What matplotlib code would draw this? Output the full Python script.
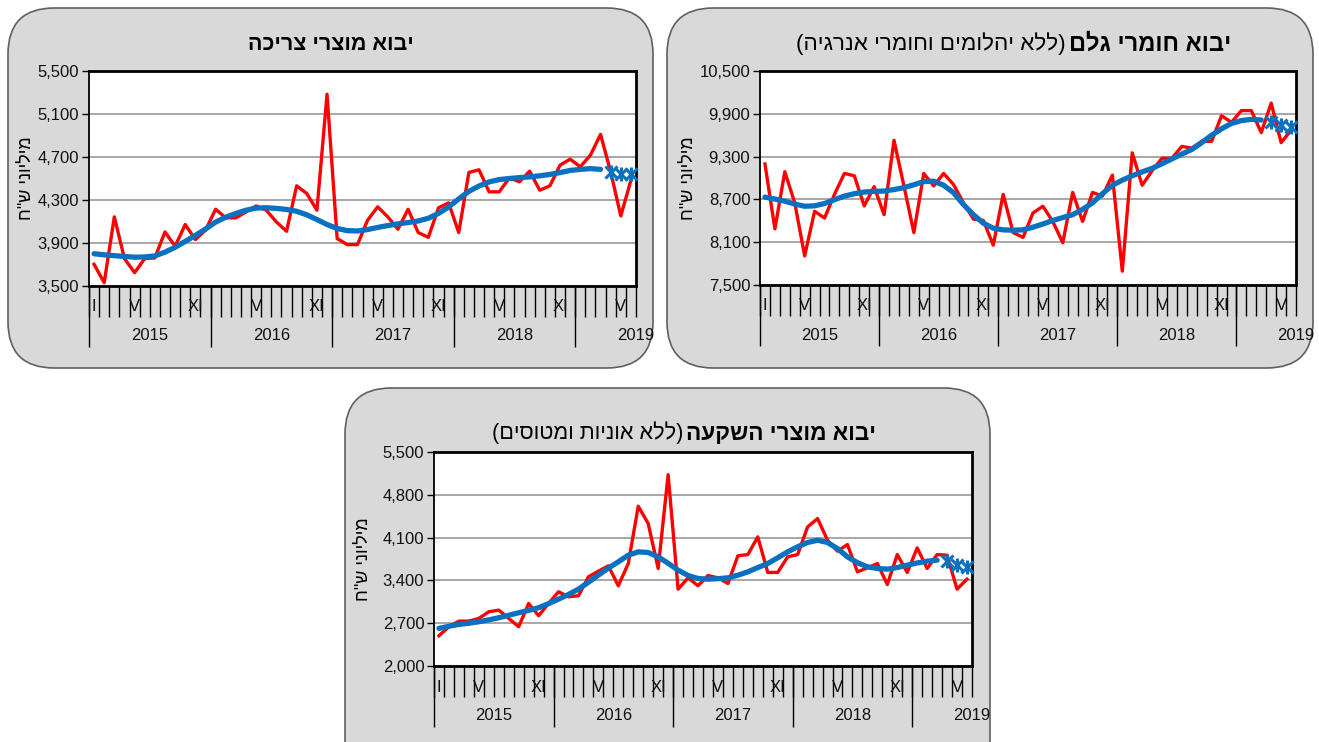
import matplotlib
matplotlib.use("Agg")
import matplotlib.pyplot as plt
from matplotlib.patches import FancyBboxPatch
import numpy as np

W, H = 1319, 742
FONT = ["Liberation Sans", "DejaVu Sans"]
plt.rcParams["font.family"] = FONT

# months Jan 2015 .. Jun 2019
N_MONTHS = 54
MONTH_LABEL_POS = [0, 4, 10, 16, 22, 28, 34, 40, 46, 52]
MONTH_LABEL_TEXT = ["I", "V", "XI", "V", "XI", "V", "XI", "V", "XI", "V"]
YEAR_START = [0, 12, 24, 36, 48]
YEARS = ["2015", "2016", "2017", "2018", "2019"]

# consumer goods imports (NIS million)
cons_actual = [3702, 3531, 4143, 3755, 3624, 3755, 3761, 4003, 3870, 4072, 3932, 4019,
               4214, 4134, 4134, 4189, 4245, 4205, 4096, 4009, 4432, 4360, 4205, 5283,
               3941, 3885, 3885, 4112, 4236, 4143, 4028, 4214, 3997, 3953, 4227, 4273,
               3997, 4556, 4581, 4376, 4376, 4506, 4469, 4568, 4391, 4432, 4624, 4680,
               4609, 4717, 4910, 4562, 4152, 4484]
cons_trend = [3800, 3790, 3782, 3775, 3768, 3770, 3780, 3815, 3860, 3915, 3970, 4030,
              4095, 4140, 4175, 4205, 4225, 4228, 4222, 4212, 4195, 4162, 4118, 4072,
              4035, 4015, 4012, 4025, 4045, 4062, 4078, 4090, 4105, 4130, 4175, 4235,
              4310, 4380, 4430, 4468, 4490, 4500, 4508, 4515, 4525, 4538, 4555, 4575,
              4585, 4592, 4585]
cons_forecast = [4562, 4540, 4538]
cons_ticks = [3500, 3900, 4300, 4700, 5100, 5500]

# raw materials imports (excl. diamonds and energy)
raw_actual = [9197, 8287, 9088, 8652, 7908, 8533, 8438, 8770, 9064, 9031, 8609, 8879,
              8486, 9528, 8889, 8235, 9064, 8889, 9064, 8908, 8652, 8424, 8405, 8059,
              8770, 8235, 8168, 8509, 8604, 8391, 8092, 8798, 8391, 8798, 8746, 9040,
              7694, 9353, 8898, 9102, 9277, 9277, 9443, 9419, 9514, 9514, 9874, 9780,
              9945, 9945, 9637, 10050, 9495, 9670]
raw_trend = [8732, 8705, 8675, 8635, 8604, 8610, 8642, 8695, 8746, 8780, 8803, 8812,
             8817, 8838, 8865, 8905, 8950, 8955, 8898, 8794, 8628, 8486, 8367, 8296,
             8273, 8268, 8273, 8310, 8355, 8405, 8445, 8486, 8560, 8652, 8780, 8898,
             8970, 9031, 9085, 9135, 9200, 9268, 9335, 9400, 9495, 9600, 9690, 9765,
             9805, 9822, 9813]
raw_forecast = [9789, 9745, 9718]
raw_ticks = [7500, 8100, 8700, 9300, 9900, 10500]

# investment goods imports (excl. ships and aircraft)
inv_actual = [2495, 2642, 2734, 2734, 2778, 2887, 2914, 2778, 2642, 3023, 2822, 3023,
              3214, 3132, 3149, 3459, 3551, 3638, 3312, 3677, 4613, 4330, 3595, 5130,
              3257, 3442, 3312, 3480, 3442, 3350, 3802, 3823, 4112, 3530, 3530, 3785,
              3823, 4275, 4411, 4057, 3878, 3987, 3540, 3605, 3676, 3333, 3823, 3530,
              3932, 3595, 3823, 3812, 3257, 3420]
inv_trend = [2615, 2650, 2680, 2700, 2724, 2755, 2789, 2830, 2871, 2910, 2953, 3020,
             3094, 3170, 3257, 3370, 3486, 3600, 3704, 3812, 3867, 3856, 3785, 3680,
             3568, 3480, 3431, 3420, 3428, 3442, 3485, 3540, 3610, 3676, 3770, 3867,
             3950, 4020, 4057, 4020, 3920, 3785, 3690, 3622, 3595, 3584, 3610, 3649,
             3685, 3714, 3731]
inv_forecast = [3714, 3649, 3622]
inv_ticks = [2000, 2700, 3400, 4100, 4800, 5500]

RED = "#ff0000"
BLUE = "#0a70c0"
YLABEL = 'מיליוני ש"ח'


def heb(s):
    """Hebrew text in visual (left-to-right) order."""
    return s[::-1].translate(str.maketrans("()", ")("))


def fig_rect(left, top, right, bottom):
    return [left / W, 1 - bottom / H, (right - left) / W, (bottom - top) / H]


def draw_panel(fig, box, axpx, title_parts, title_y, ylabel_x,
               actual, trend, forecast, yticks):
    x0, y0, x1, y1 = box
    fig.patches.append(FancyBboxPatch(
        (x0 / W, 1 - y1 / H), (x1 - x0) / W, (y1 - y0) / H,
        boxstyle="round,pad=0,rounding_size=0.035", transform=fig.transFigure,
        facecolor="#d9d9d9", edgecolor="#606060", linewidth=1.2, zorder=-10,
        mutation_aspect=W / H))

    ax = fig.add_axes(fig_rect(*axpx))
    ax.set_zorder(1)
    ax.set_facecolor("white")
    xa = np.arange(len(actual)) + 0.5
    xt = np.arange(len(trend)) + 0.5
    xf = np.arange(len(trend), len(trend) + len(forecast)) + 0.5
    ax.plot(xa, actual, color=RED, lw=2.4, zorder=3)
    ax.plot(xt, trend, color=BLUE, lw=3.8, zorder=4, solid_capstyle="round")
    ax.plot(xf, forecast, ls="none", marker="x", ms=8, mew=2.2, color=BLUE,
            zorder=5, clip_on=False)
    ax.plot(xf, forecast, ls="none", marker="|", ms=10, mew=2.2, color=BLUE,
            zorder=5, clip_on=False)

    ax.set_xlim(0, N_MONTHS)
    ax.set_ylim(yticks[0], yticks[-1])
    ax.set_yticks(yticks)
    ax.set_yticklabels([f"{v:,}" for v in yticks])
    ax.set_xticks([])
    ax.tick_params(axis="y", length=5, width=1, pad=2, labelsize=12,
                   labelcolor="#111111")
    ax.yaxis.grid(True, color="#a0a0a0", lw=1.3)
    ax.set_axisbelow(True)
    for sp in ax.spines.values():
        sp.set_color("black")
        sp.set_linewidth(2)
    ax.spines["left"].set_linewidth(1.3)

    # category axis: month ticks, roman month labels, years
    h = axpx[3] - axpx[1]
    trans = ax.get_xaxis_transform()
    ax.vlines(np.arange(N_MONTHS + 1), 0, -31 / h, transform=trans,
              clip_on=False, color="black", lw=1)
    ax.vlines(YEAR_START, 0, -61 / h, transform=trans,
              clip_on=False, color="black", lw=1)
    for pos, lab in zip(MONTH_LABEL_POS, MONTH_LABEL_TEXT):
        ax.text(pos + 0.5, -21 / h, lab, transform=trans, ha="center",
                va="center", fontsize=12, color="#111111")
    for pos, lab in zip(YEAR_START, YEARS):
        ax.text(pos + 6, -50 / h, lab, transform=trans, ha="center",
                va="center", fontsize=12, color="#111111")

    # title: bold main part + plain parenthetical on its left
    anchor, bold, plain, bsize, psize = title_parts
    fig.text(anchor / W, 1 - title_y / H, heb(bold), ha="left" if plain else "center",
             va="center", fontsize=bsize, fontweight="bold", family=FONT)
    if plain:
        fig.text((anchor - 3) / W, 1 - title_y / H, heb(plain), ha="right",
                 va="center", fontsize=psize, family=FONT)

    fig.text(ylabel_x / W, 1 - (axpx[1] + axpx[3]) / 2 / H, heb(YLABEL),
             rotation=90, ha="center", va="center", fontsize=13, family=FONT)
    return ax


fig = plt.figure(figsize=(W / 100, H / 100), dpi=100)
fig.patch.set_facecolor("white")

draw_panel(fig, (8, 8, 653, 368), (89, 71, 636, 286),
           (331, "יבוא מוצרי צריכה", "", 15.5, 15.5), 44, 26,
           cons_actual, cons_trend, cons_forecast, cons_ticks)
draw_panel(fig, (667, 8, 1313, 368), (760, 71, 1296, 285),
           (1069, "יבוא חומרי גלם", "(ללא יהלומים וחומרי אנרגיה)", 17, 16.2), 44, 688,
           raw_actual, raw_trend, raw_forecast, raw_ticks)
draw_panel(fig, (345, 388, 990, 790), (434, 452, 972, 666),
           (686, "יבוא מוצרי השקעה", "(ללא אוניות ומטוסים)", 16.3, 15.6), 433, 363,
           inv_actual, inv_trend, inv_forecast, inv_ticks)

fig.savefig("out.png", dpi=100)
